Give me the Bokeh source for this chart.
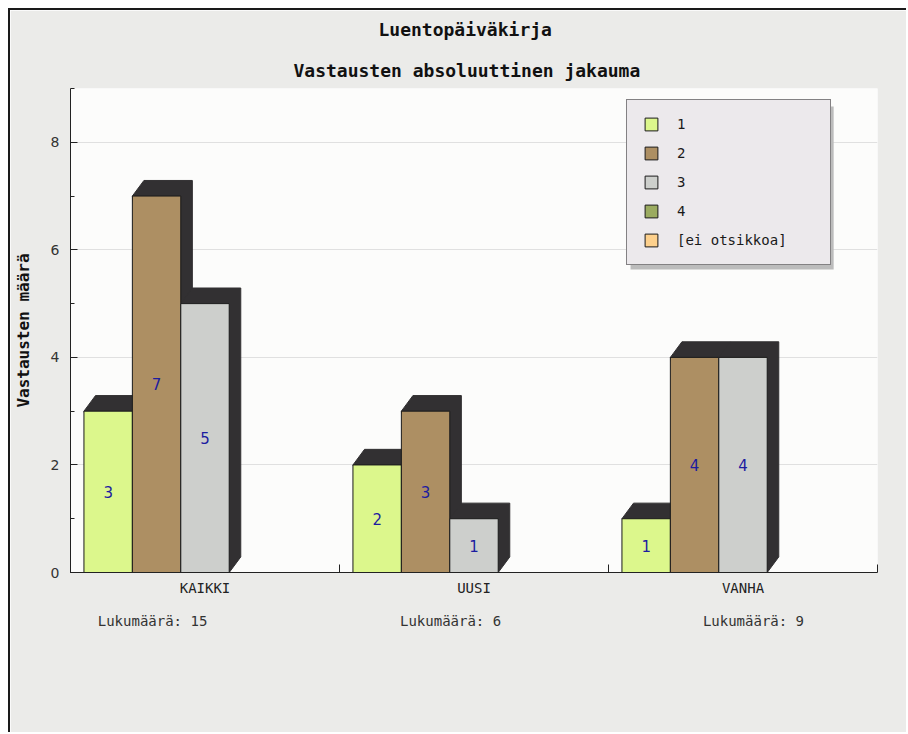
from bokeh.plotting import figure
from bokeh.models import (Range1d, FixedTicker, SingleIntervalTicker, LinearAxis, Grid,
                          ColumnDataSource, Legend, LegendItem, Title, BoxAnnotation)
from bokeh.core.properties import value
from bokeh.embed import file_html
from bokeh.resources import INLINE

# ---------------- data ----------------
main_title = "Luentopäiväkirja"
sub_title = "Vastausten absoluuttinen jakauma"
y_label = "Vastausten määrä"
categories = ["KAIKKI", "UUSI", "VANHA"]
series_names = ["1", "2", "3", "4", "[ei otsikkoa]"]
s1 = [3, 2, 1]
s2 = [7, 3, 4]
s3 = [5, 1, 4]
s4 = [0, 0, 0]
s5 = [0, 0, 0]
series = [s1, s2, s3, s4, s5]
colors = ["#dcf78c", "#ad8f63", "#cdcfcc", "#9bab60", "#fdd08c"]
count_label = "Lukumäärä"
y_max = 9

# ---------------- style ----------------
MONO = "DejaVu Sans Mono"
SANS = "DejaVu Sans"
BW = 0.18          # bar width in category units
DX = 0.043         # shadow offset (x, category units)
DY = 0.29          # shadow offset (y, value units)
COUNT_X = [0.305, 1.413, 2.539]   # centres of the count texts (category units)
W, H = 898, 724

p = figure(width=W, height=H, x_range=Range1d(0, len(categories)), y_range=Range1d(0, y_max),
           output_backend="svg", toolbar_location=None,
           x_axis_type=None, y_axis_type=None,
           min_border_left=60, min_border_right=31, min_border_top=78, min_border_bottom=162,
           background_fill_color="#fcfcfb", border_fill_color="#ebebe9")
p.outline_line_color = None
p.styles = {"margin-left": "8px", "margin-top": "8px",
            "border-top": "2px solid #1a1a1a", "border-left": "2px solid #1a1a1a"}

# titles
p.title.text = main_title
p.title.text_font = MONO
p.title.text_font_size = "18px"
p.title.text_font_style = "bold"
p.title.text_color = "#111111"
p.title.align = "left"
p.title.offset = 308
p.title.vertical_align = "top"
p.title.standoff = 17
p.add_layout(Title(text=sub_title, text_font=MONO, text_font_size="18px", text_font_style="bold",
                   text_color="#111111", align="left", offset=223, vertical_align="bottom",
                   standoff=15), "above")

# axes
yaxis = LinearAxis(ticker=SingleIntervalTicker(interval=2, num_minor_ticks=2))
yaxis.axis_label = y_label
yaxis.axis_label_text_font = MONO
yaxis.axis_label_text_font_style = "bold"
yaxis.axis_label_text_font_size = "16px"
yaxis.axis_label_text_color = "#111111"
yaxis.axis_label_standoff = 15
yaxis.major_label_text_font = SANS
yaxis.major_label_text_font_size = "14px"
yaxis.major_label_text_color = "#333333"
yaxis.major_label_standoff = 11
yaxis.axis_line_color = "#222222"
yaxis.major_tick_line_color = "#222222"
yaxis.minor_tick_line_color = "#222222"
yaxis.major_tick_in = 7
yaxis.major_tick_out = 0
yaxis.minor_tick_in = 4
yaxis.minor_tick_out = 0
p.add_layout(yaxis, "left")

xaxis = LinearAxis(ticker=FixedTicker(ticks=[i + 0.5 for i in range(len(categories))],
                                      minor_ticks=list(range(len(categories) + 1))),
                   major_label_overrides={i + 0.5: c for i, c in enumerate(categories)})
xaxis.major_label_text_font = MONO
xaxis.major_label_text_font_size = "14px"
xaxis.major_label_text_color = "#222222"
xaxis.major_label_standoff = 1
xaxis.axis_line_color = "#222222"
xaxis.major_tick_line_color = None
xaxis.minor_tick_line_color = "#222222"
xaxis.minor_tick_in = 8
xaxis.minor_tick_out = 0
p.add_layout(xaxis, "below")

# second row below the axis: number of answers per category
totals = [sum(s[i] for s in series) for i in range(len(categories))]
count_axis = LinearAxis(ticker=FixedTicker(ticks=COUNT_X, minor_ticks=[]),
                        major_label_overrides={COUNT_X[i]: f"{count_label}: {t}"
                                               for i, t in enumerate(totals)})
count_axis.axis_line_color = None
count_axis.major_tick_line_color = None
count_axis.minor_tick_line_color = None
count_axis.major_tick_in = 0
count_axis.major_tick_out = 0
count_axis.major_label_text_font = MONO
count_axis.major_label_text_font_size = "14px"
count_axis.major_label_text_color = "#333333"
count_axis.major_label_standoff = 14
p.add_layout(count_axis, "below")

p.add_layout(Grid(dimension=1, ticker=yaxis.ticker, grid_line_color="#e0e0e0", grid_line_width=1))

# shadows (drawn behind all bars)
n = len(series)
sh_xs, sh_ys = [], []
for j, vals in enumerate(series):
    for i, v in enumerate(vals):
        if v > 0:
            xc = i + 0.5 + (j - (n - 1) / 2) * BW
            x0, x1 = xc - BW / 2, xc + BW / 2
            sh_xs.append([x0, x0 + DX, x1 + DX, x1 + DX, x1])
            sh_ys.append([v, v + DY, v + DY, DY, 0])
p.patches(sh_xs, sh_ys, fill_color="#323032", line_color="#323032", line_width=1)

items = []
for j, (name, vals, col) in enumerate(zip(series_names, series, colors)):
    xs = [i + 0.5 + (j - (n - 1) / 2) * BW for i in range(len(vals))]
    src = ColumnDataSource(dict(x=xs, top=vals))
    r = p.vbar(x="x", top="top", bottom=0, width=BW, source=src,
               fill_color=col, line_color="#1a1a1a", line_width=1)
    nz = [(x, v) for x, v in zip(xs, vals) if v > 0]
    lsrc = ColumnDataSource(dict(x=[a for a, _ in nz], mid=[b / 2 for _, b in nz],
                                 lab=[str(b) for _, b in nz]))
    p.text(x="x", y="mid", text="lab", source=lsrc, text_align="center", text_baseline="middle",
           text_font=value(SANS), text_font_size="15px", text_color="#1c1ca0")
    items.append(LegendItem(label=name, renderers=[r]))

# legend drop shadow
p.add_layout(BoxAnnotation(left=2.082, right=2.837, top=8.665, bottom=5.635,
                           fill_color="#bcbcbc", fill_alpha=1, line_color=None, level="glyph"))

legend = Legend(items=items, location=(556, 307))
legend.background_fill_color = "#ece9ec"
legend.background_fill_alpha = 1
legend.border_line_color = "#1a1a1a"
legend.border_line_width = 1.5
legend.padding = 16
legend.spacing = 13
legend.glyph_width = 16
legend.glyph_height = 16
legend.label_height = 16
legend.label_width = 137
legend.label_standoff = 18
legend.label_text_font = MONO
legend.label_text_font_size = "14px"
legend.label_text_color = "#1a1a1a"
legend.margin = 0
p.add_layout(legend)

open("out.html", "w").write(file_html(p, INLINE))
